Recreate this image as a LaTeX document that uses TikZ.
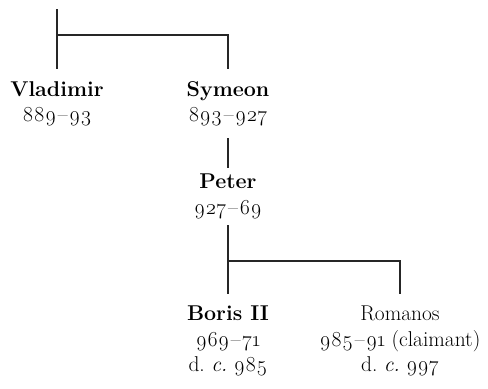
\documentclass[tikz,border=0pt]{standalone}
\usepackage{fontspec}
\setmainfont{Latin Modern Roman}[Numbers=OldStyle]
\newcommand{\yr}{\kern1.5bp--\kern1.5bp}
\begin{document}
\begin{tikzpicture}[x=1bp,y=-1bp,
  link/.style={line width=1.1bp, black!85},
  ruler/.style={align=center, anchor=north, inner xsep=0pt, inner ysep=12bp,
    font=\fontsize{21.5}{25.5}\selectfont}]
  % Bounding box
  \useasboundingbox (0,0) rectangle (488,388);

  % Rulers
  \node[ruler] (vladimir) at (57,69)  {\textbf{Vladimir}\\889\yr93};
  \node[ruler] (symeon)   at (228,69) {\textbf{Symeon}\\893\yr927};
  \node[ruler, inner ysep=6bp] (peter) at (228,168) {\textbf{Peter}\\927\yr69};
  \node[ruler] (boris)    at (228,294) {\textbf{Boris II}\\969\yr71\\d.~\textit{c.}~985};
  \node[ruler] (romanos)  at (400,294) {Romanos\\985\yr91 (claimant)\\d.~\textit{c.}~997};

  % Lines
  \coordinate (top)   at (57,9);
  \coordinate (fork1) at (57,35);
  \coordinate (fork2) at (228,261);
  \draw[link] (top) -- (vladimir.north);
  \draw[link] (fork1) -| (symeon.north);
  \draw[link] (symeon.south) -- (peter.north);
  \draw[link] (peter.south) -- (boris.north);
  \draw[link] (fork2) -| (romanos.north);
\end{tikzpicture}
\end{document}
